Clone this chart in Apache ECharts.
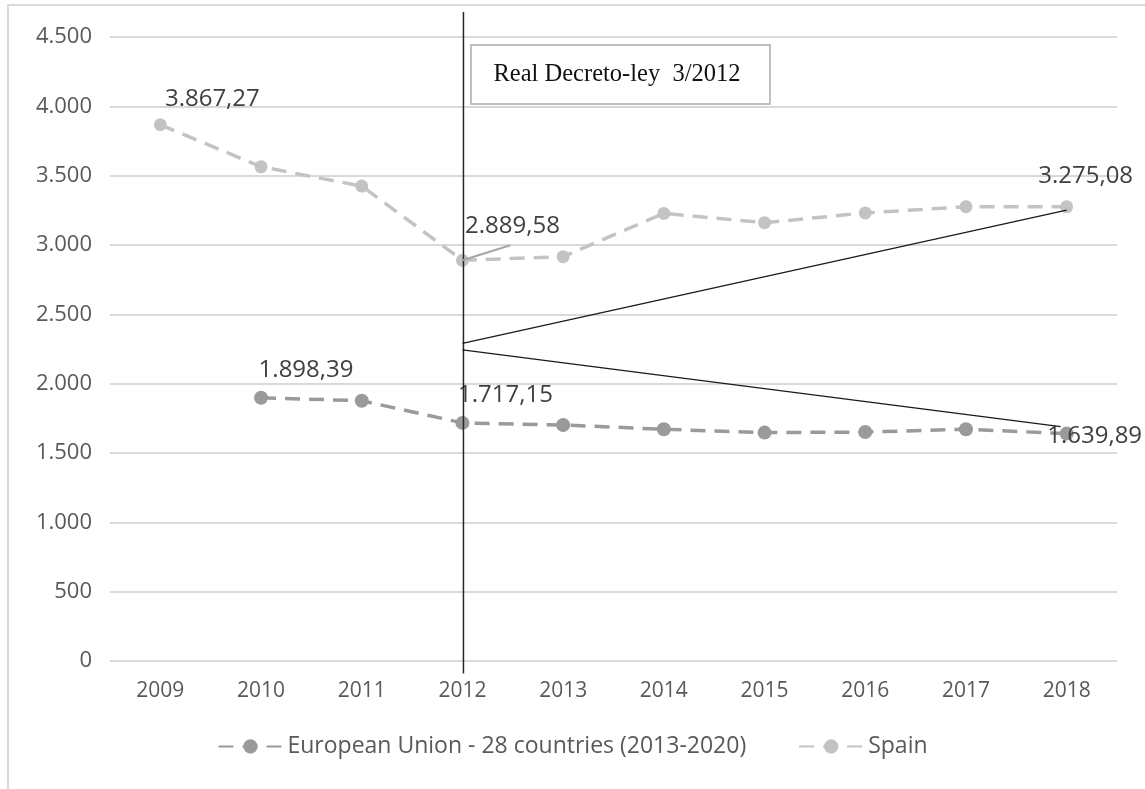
<!DOCTYPE html>
<html>
<head>
<meta charset="utf-8">
<script src="https://cdn.jsdelivr.net/npm/echarts@6/dist/echarts.min.js"></script>
<style>
  html, body { margin: 0; padding: 0; background: #ffffff; }
  #chart { width: 1145px; height: 789px; }
</style>
</head>
<body>
<div id="chart"></div>
<script>
// Years on the category axis
const years = ['2009', '2010', '2011', '2012', '2013', '2014', '2015', '2016', '2017', '2018'];

// Series values
const euName = 'European Union - 28 countries (2013-2020)';
const euValues = [null, 1898.39, 1877, 1717.15, 1702, 1671, 1647, 1651, 1671, 1639.89];
const spainName = 'Spain';
const spainValues = [3867.27, 3564, 3425, 2889.58, 2916, 3228, 3161, 3231, 3276, 3275.08];

// Value axis range
const yMin = 0;
const yMax = 4500;
const yStep = 500;

// Reform marker and trend lines (start value at 2012, end value at 2018)
const decreeYear = '2012';
const decreeText = 'Real Decreto-ley  3/2012';
const decreeSpan = [-90, 4680];
const trendUpper = [2291, 3252];
const trendLower = [2243, 1690];
const trendYears = ['2012', '2018'];

// Which points carry a value label, and where the label sits relative to the point
const euLabelOffsets = { 1: [45, -28], 3: [43, -28], 9: [28, 3] };
const spainLabelOffsets = { 0: [52, -26], 3: [50, -34], 9: [19, -31] };

const fmtThousands = (v) => {
  const s = Math.round(v).toString();
  return s.replace(/\B(?=(\d{3})+(?!\d))/g, '.');
};
const fmtValue = (v) => {
  const [i, d] = v.toFixed(2).split('.');
  return i.replace(/\B(?=(\d{3})+(?!\d))/g, '.') + ',' + d;
};

const labelStyle = {
  fontFamily: 'Open Sans',
  fontSize: 24,
  color: '#404040'
};

function buildData(values, offsets) {
  return values.map((v, i) => {
    if (v === null) return '-';
    if (offsets[i]) {
      return {
        value: v,
        label: Object.assign({
          show: true,
          position: 'inside',
          offset: offsets[i],
          formatter: (p) => fmtValue(p.value)
        }, labelStyle)
      };
    }
    return v;
  });
}

const chart = echarts.init(document.getElementById('chart'), null, { renderer: 'canvas' });

const euColor = '#9a9a9a';
const spainColor = '#c3c3c3';

chart.setOption({
  animation: false,
  backgroundColor: '#ffffff',
  grid: { left: 110, right: 28, top: 37, bottom: 128, containLabel: false },
  legend: {
    bottom: 26,
    left: 'center',
    itemWidth: 64,
    itemHeight: 18,
    itemGap: 52,
    textStyle: { fontFamily: 'Open Sans', fontSize: 23, color: '#595959' },
    data: [euName, spainName]
  },
  xAxis: {
    type: 'category',
    data: years,
    boundaryGap: true,
    axisLine: { show: false },
    axisTick: { show: false },
    axisLabel: { margin: 20, fontFamily: 'Open Sans', fontSize: 21, color: '#595959' }
  },
  yAxis: {
    type: 'value',
    min: yMin,
    max: yMax,
    interval: yStep,
    axisLine: { show: false },
    axisTick: { show: false },
    splitLine: { lineStyle: { color: '#d9d9d9', width: 2 } },
    axisLabel: {
      margin: 18,
      fontFamily: 'Open Sans',
      fontSize: 22,
      color: '#595959',
      formatter: (v) => fmtThousands(v)
    }
  },
  series: [
    {
      name: euName,
      type: 'line',
      data: buildData(euValues, euLabelOffsets),
      symbol: 'circle',
      symbolSize: 14,
      itemStyle: { color: euColor },
      lineStyle: { color: euColor, width: 3.5, type: [15, 9] },
      z: 3
    },
    {
      name: spainName,
      type: 'line',
      data: buildData(spainValues, spainLabelOffsets),
      symbol: 'circle',
      symbolSize: 13,
      itemStyle: { color: spainColor },
      lineStyle: { color: spainColor, width: 3.5, type: [15, 9] },
      z: 2
    }
  ]
});

// Annotation layer: reform line, trend lines, leader line and note box
function px(cat, val) {
  return chart.convertToPixel({ gridIndex: 0 }, [cat, val]);
}

const vTop = px(decreeYear, decreeSpan[1]);
const vBot = px(decreeYear, decreeSpan[0]);
const upA = px(trendYears[0], trendUpper[0]);
const upB = px(trendYears[1], trendUpper[1]);
const loA = px(trendYears[0], trendLower[0]);
const loB = px(trendYears[1], trendLower[1]);
const spainIdx = years.indexOf(decreeYear);
const leadStart = px(decreeYear, spainValues[spainIdx]);

chart.setOption({
  graphic: [
    {
      type: 'rect',
      shape: { x: 8, y: 5, width: 1300, height: 900 },
      style: { fill: 'none', stroke: '#d9d9d9', lineWidth: 2 },
      z: 0,
      silent: true
    },
    {
      type: 'line',
      shape: { x1: vTop[0] + 1, y1: vTop[1], x2: vBot[0] + 1, y2: vBot[1] },
      style: { stroke: '#262626', lineWidth: 1.5 },
      z: 10
    },
    {
      type: 'line',
      shape: { x1: upA[0], y1: upA[1], x2: upB[0], y2: upB[1] },
      style: { stroke: '#1a1a1a', lineWidth: 1.3 },
      z: 10
    },
    {
      type: 'line',
      shape: { x1: loA[0], y1: loA[1], x2: loB[0] - 6, y2: loB[1] },
      style: { stroke: '#1a1a1a', lineWidth: 1.3 },
      z: 10
    },
    {
      type: 'line',
      shape: { x1: leadStart[0], y1: leadStart[1], x2: leadStart[0] + 48, y2: leadStart[1] - 15 },
      style: { stroke: '#a6a6a6', lineWidth: 2 },
      z: 10
    },
    {
      type: 'group',
      left: 470,
      top: 44,
      z: 11,
      children: [
        {
          type: 'rect',
          shape: { x: 0, y: 0, width: 299, height: 59 },
          style: { fill: '#ffffff', stroke: '#bfbfbf', lineWidth: 2 }
        },
        {
          type: 'text',
          x: 146,
          y: 29.5,
          style: {
            text: decreeText,
            fontFamily: 'Liberation Serif',
            fontSize: 24.5,
            fill: '#111111',
            align: 'center',
            verticalAlign: 'middle'
          }
        }
      ]
    }
  ]
});
</script>
</body>
</html>
